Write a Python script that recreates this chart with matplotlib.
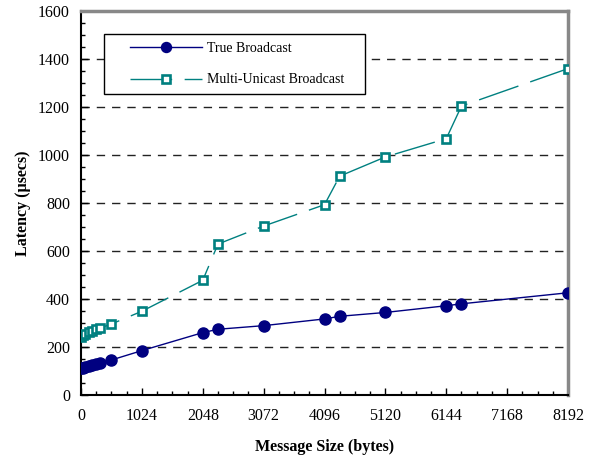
import numpy as np
import matplotlib
matplotlib.use('Agg')
import matplotlib.pyplot as plt
from matplotlib.ticker import MultipleLocator
from matplotlib.patches import Rectangle

# message sizes (bytes) and latencies (usecs)
sizes = [0, 32, 64, 128, 192, 256, 320, 512, 1024, 2048, 2304, 3072,
         4096, 4352, 5120, 6144, 6400, 8192]
true_bcast = [112, 114, 117, 120, 124, 128, 133, 146, 185, 260, 274, 289,
              317, 328, 344, 372, 380, 426]
multi_unicast = [243, 250, 255, 262, 268, 273, 279, 296, 349, 478, 629, 704,
                 793, 912, 992, 1068, 1204, 1360]
xticks = [0, 1024, 2048, 3072, 4096, 5120, 6144, 7168, 8192]

plt.rcParams['font.family'] = ['Liberation Serif', 'DejaVu Serif']
plt.rcParams['font.size'] = 11.5

fig = plt.figure(figsize=(5.94, 4.65), dpi=100)
ax = fig.add_axes([0.1364, 0.1505, 0.8198, 0.8258])

ax.plot(sizes, true_bcast, color='#000080', lw=1, marker='o', ms=8,
        markerfacecolor='#000080', markeredgecolor='#000080',
        label='True Broadcast', zorder=3)
ax.plot(sizes, multi_unicast, color='#008080', lw=1, dashes=(30, 9),
        marker='s', ms=5.8, markerfacecolor='white', markeredgecolor='#008080',
        markeredgewidth=1.9, label='Multi-Unicast Broadcast', zorder=3)

ax.set_xlim(0, 8192)
ax.set_ylim(0, 1600)
ax.set_xticks(xticks)
ax.xaxis.set_minor_locator(MultipleLocator(256))
ax.yaxis.set_major_locator(MultipleLocator(200))
ax.yaxis.set_minor_locator(MultipleLocator(50))
ax.tick_params(which='both', direction='in', top=False, right=False)
ax.tick_params(which='major', length=5, width=1)
ax.tick_params(which='minor', length=3, width=1)
ax.tick_params(axis='x', pad=9)
ax.tick_params(axis='y', pad=8)

# dashed horizontal grid
for y in range(200, 1600, 200):
    ax.axhline(y, color='#222222', lw=1, dashes=(6, 5), zorder=1)

for s in ['left', 'bottom']:
    ax.spines[s].set_color('black')
    ax.spines[s].set_linewidth(1.5)
for s in ['top', 'right']:
    ax.spines[s].set_color('#888888')
    ax.spines[s].set_linewidth(2.5)

ax.set_xlabel('Message Size (bytes)', fontweight='bold', labelpad=11)
ax.set_ylabel('Latency (µsecs)', fontweight='bold', labelpad=5)

# legend box drawn by hand so the padding matches the original
ax.add_patch(Rectangle((0.047, 0.784), 0.536, 0.156, transform=ax.transAxes,
                       facecolor='white', edgecolor='black', lw=1, zorder=4))
leg = ax.legend(loc='upper left', bbox_to_anchor=(0.1, 0.92), frameon=False,
                fontsize=10, handlelength=5.2, borderpad=0, labelspacing=1.35,
                handletextpad=0.35, borderaxespad=0, markerscale=0.9)
leg.set_zorder(5)

plt.savefig('out.png', dpi=100)
